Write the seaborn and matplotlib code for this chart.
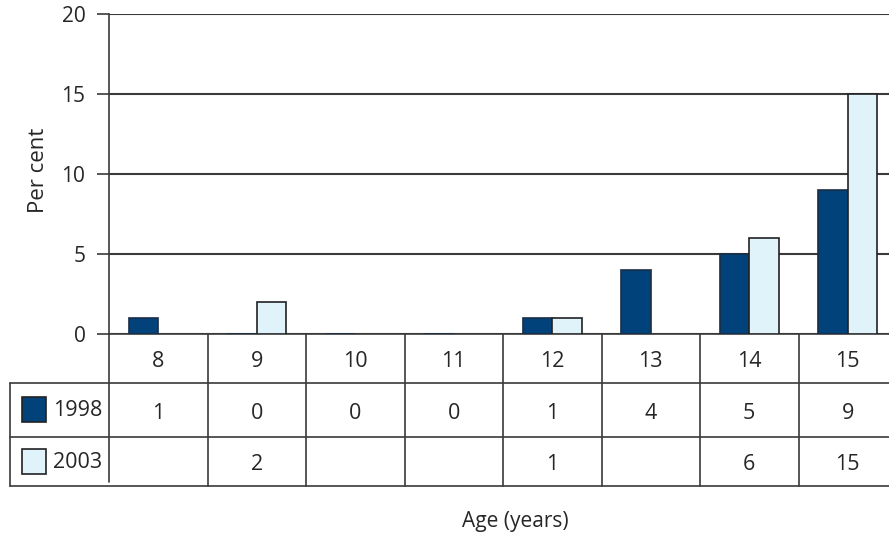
import numpy as np
import pandas as pd
import seaborn as sns
import matplotlib.pyplot as plt
from matplotlib.patches import Rectangle

# dados
idades = [8, 9, 10, 11, 12, 13, 14, 15]
anos = ['1998', '2003']
valores_1998 = [1, 0, 0, 0, 1, 4, 5, 9]
valores_2003 = [np.nan, 2, np.nan, np.nan, 1, np.nan, 6, 15]
yticks = [0, 5, 10, 15, 20]

cor_1998 = '#01427b'
cor_2003 = '#e0f2fa'
cor_linha = '#3a3a3a'


def main():
    sns.set_theme(style='white')
    plt.rcParams['font.family'] = ['Open Sans', 'DejaVu Sans']

    df = pd.DataFrame({
        'idade': [str(i) for i in idades] * 2,
        'ano': [anos[0]] * len(idades) + [anos[1]] * len(idades),
        'pct': valores_1998 + valores_2003,
    })

    # largura de cada categoria ~98.5 px, o eixo passa um pouco da borda direita
    larg_cat = 98.5
    fig = plt.figure(figsize=(8.89, 5.35), dpi=100)
    ax = fig.add_axes([109 / 889, (535 - 334) / 535,
                       larg_cat * len(idades) / 889, 320 / 535])

    sns.barplot(data=df, x='idade', y='pct', hue='ano', hue_order=anos,
                palette=[cor_1998, cor_2003], width=0.6, gap=0,
                saturation=1, linewidth=1.2, legend=False, ax=ax, zorder=3)
    for p in ax.containers[0]:
        p.set_edgecolor('#1a2e45')
    for p in ax.containers[1]:
        p.set_edgecolor('#222222')

    # eixos e grade
    ax.set_xlim(-0.5, len(idades) - 0.5)
    ax.set_ylim(0, 20)
    ax.set_yticks(yticks)
    ax.set_xticks([])
    ax.set_xlabel('')
    ax.set_ylabel('Per cent', fontsize=16)
    ax.yaxis.set_label_coords(-60 / (larg_cat * len(idades)), 0.51)
    ax.tick_params(axis='y', left=True, length=9, width=1.2, color=cor_linha,
                   pad=8, labelsize=15)
    ax.yaxis.grid(True, color=cor_linha, linewidth=1.5)
    ax.set_axisbelow(True)
    for lado in ['top', 'right']:
        ax.spines[lado].set_visible(False)
    for lado in ['left', 'bottom']:
        ax.spines[lado].set_color(cor_linha)
        ax.spines[lado].set_linewidth(1.2)

    # tabela de dados abaixo do grafico
    tr = ax.get_xaxis_transform()
    y_cab, y_r1, y_r2 = -0.153, -0.322, -0.475
    x_esq = -0.5 - 99 / larg_cat
    x_dir = len(idades) - 0.5
    kw = dict(transform=tr, clip_on=False, color=cor_linha, lw=1.2)
    for y in [y_cab, y_r1, y_r2]:
        ax.plot([x_esq, x_dir], [y, y], **kw)
    ax.plot([x_esq, x_esq], [y_cab, y_r2], **kw)
    ax.plot([-0.5, -0.5], [0, y_r2 + 0.012], **kw)
    for i in range(1, len(idades)):
        ax.plot([i - 0.5, i - 0.5], [0, y_r2], **kw)

    fs = 15.5
    for i, idade in enumerate(idades):
        ax.text(i, (0 + y_cab) / 2 - 0.01, str(idade), transform=tr,
                ha='center', va='center', fontsize=fs)
        ax.text(i, (y_cab + y_r1) / 2 - 0.01, f'{valores_1998[i]:g}', transform=tr,
                ha='center', va='center', fontsize=fs)
        if not np.isnan(valores_2003[i]):
            ax.text(i, (y_r1 + y_r2) / 2 - 0.01, f'{valores_2003[i]:g}', transform=tr,
                    ha='center', va='center', fontsize=fs)

    # legenda dentro da tabela
    for (y0, y1), ano, cor in [((y_cab, y_r1), anos[0], cor_1998),
                               ((y_r1, y_r2), anos[1], cor_2003)]:
        yc = (y0 + y1) / 2
        fig_y = (535 - 334) / 535 + yc * 320 / 535
        fig.patches.append(Rectangle((22 / 889, fig_y - 12 / 535), 24 / 889, 25 / 535,
                                     transform=fig.transFigure, facecolor=cor,
                                     edgecolor='#222222', lw=1.2))
        fig.text(53 / 889, fig_y - 1 / 535, ano, ha='left', va='center', fontsize=fs)

    fig.text(515 / 889, 1 - 521 / 535, 'Age (years)', ha='center', va='center', fontsize=15)

    plt.savefig('out.png', dpi=100)


if __name__ == '__main__':
    main()
